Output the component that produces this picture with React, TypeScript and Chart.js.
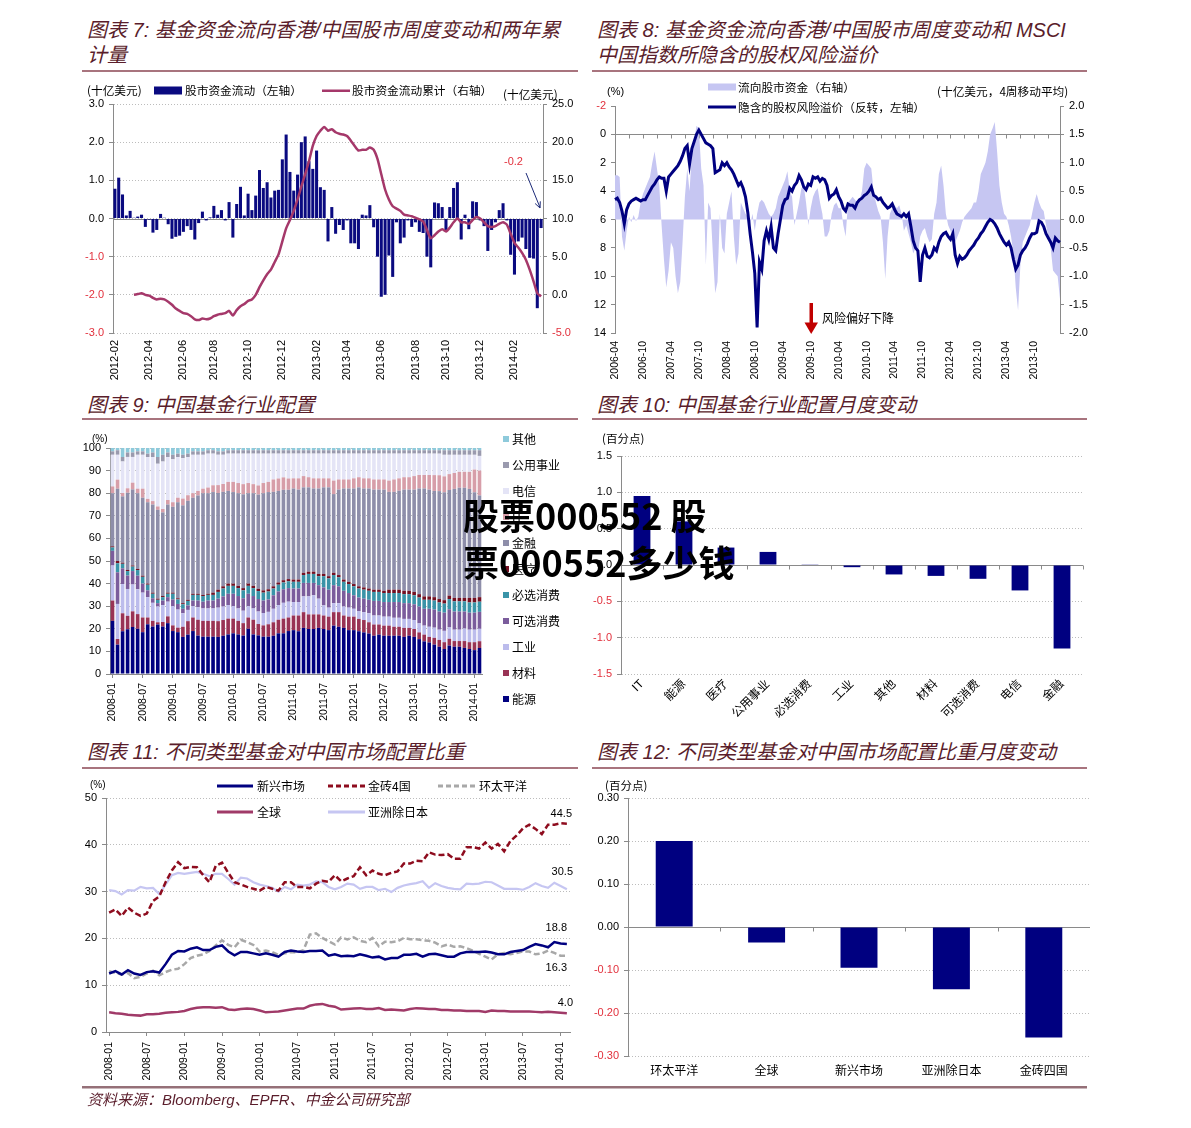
import React, { useEffect, useRef } from 'react';
import { Chart, registerables } from 'chart.js';

Chart.register(...registerables);

const FONT = '"Liberation Sans", Arial, "Noto Sans CJK SC", sans-serif';
const CJK = '"Noto Sans CJK SC", "Liberation Sans", sans-serif';
Chart.defaults.font.family = FONT;
Chart.defaults.font.size = 11;
Chart.defaults.color = '#000';

// ---------------- colours ----------------
const AXIS = '#8a8a8a';
const GRID = '#bcbcbc';
const RED = '#e2303c';
const NAVY = '#000080';
const TITLE_COLOR = '#5a1d2b';
const RULE_COLOR = '#a8747e';

// ---------------- chart 7 data (weekly, from 2012-02) ----------------
const flowStartDate = '2012-02-01';
const fundFlowWeekly = [
  0.78, 1.07, 0.63, 0.08, 0.2, 0.02, 0.05, 0.1, -0.22, -0.03,
  -0.37, -0.3, 0.12, 0.02, -0.15, -0.53, -0.48, -0.45, -0.35, -0.2,
  -0.3, -0.55, -0.12, 0.18, -0.05, 0.03, 0.33, 0.1, 0.22, -0.05,
  0.43, -0.5, 0.38, 0.83, 0.08, 0.65, 0.22, 0.6, 1.27, 0.8,
  0.95, 0.55, 0.73, 0.75, 1.55, 2.2, 1.22, 0.73, 1.15, 2.0,
  2.15, 1.5, 1.3, 1.78, 0.82, 0.75, -0.6, 0.3, -0.4, -0.17,
  -0.3, -0.05, -0.65, -0.65, -0.8, 0.1, 0.08, 0.35, -0.23, -1.0,
  -2.05, -2.0, -0.97, -1.53, -0.1, -0.65, -0.5, -0.05, -0.22, -0.1,
  -0.35, -0.38, -1.0, -1.28, 0.42, 0.4, 0.3, -0.3, 0.3, 0.8,
  0.95, -0.55, 0.1, -0.28, 0.45, 0.43, -0.05, -0.2, -0.85, -0.3,
  -0.1, 0.22, 0.4, -0.05, -0.95, -1.47, -0.6, -0.5, -0.8, -1.03,
  -1.05, -2.35, -0.25,
];
const fundFlowCumulative = [
  null, null, null, null, null, 0.0, 0.1, 0.2, 0.0, -0.1,
  -0.4, -0.6, -0.5, -0.6, -0.9, -1.3, -1.8, -2.1, -2.4, -2.5,
  -2.8, -3.2, -3.3, -3.1, -3.2, -3.1, -2.8, -2.6, -2.5, -2.4,
  -2.1, -2.7, -2.0, -1.5, -1.2, -0.8, -0.6, 0.0, 1.0, 1.9,
  2.7, 3.3, 4.3, 5.3, 7.0, 8.7, 9.8, 11.0, 12.5, 14.2,
  15.8, 17.5, 19.5, 20.8, 21.5, 22.0, 21.5, 21.7, 21.3, 21.1,
  21.0, 20.8, 20.2, 19.5, 18.9, 19.0, 19.0, 19.3, 19.0, 17.8,
  15.8, 13.8, 12.5, 11.6, 11.3, 11.0, 10.5, 10.4, 10.3, 10.1,
  9.9, 9.6, 8.5, 7.4, 7.8, 8.3, 8.6, 8.3, 8.8, 9.5,
  10.0, 9.5, 9.5, 9.3, 9.8, 10.2, 10.0, 9.5, 9.0, 8.9,
  9.0, 9.3, 9.5, 9.2, 8.0, 6.8, 6.2, 5.5, 4.6, 3.3,
  1.8, 0.2, -0.2,
];

// ---------------- chart 8 data (semi-monthly, from 2006-04) ----------------
const erpStartMonth = '2006-04';
const impliedErp = [
  4.6, 4.5, 4.8, 5.4, 6.3, 5.3, 4.9, 4.7, 4.6, 4.5,
  4.6, 4.7, 4.6, 4.6, 4.3, 4.0, 3.7, 3.5, 3.2, 3.0,
  3.1, 3.1, 4.0, 3.0, 2.8, 2.6, 2.4, 2.2, 1.9, 1.5,
  1.0, 0.8, 2.1, 1.0, 0.5, 0.0, -0.3, 0.0, 0.3, 0.6,
  0.7, 0.8, 1.0, 2.7, 2.6, 2.5, 2.0, 2.2, 2.0, 2.3,
  2.5, 2.8, 3.2, 3.6, 3.4, 3.8, 4.4, 5.5, 7.0, 8.3,
  9.8, 13.6, 9.0, 9.5, 7.5, 6.8, 7.4, 6.5, 8.0, 8.2,
  7.0, 6.0, 5.0, 4.6, 4.5, 3.8, 4.0, 3.6, 3.4, 2.9,
  3.2, 3.7, 3.9, 3.5, 3.6, 3.0, 3.1, 3.0, 3.3, 3.1,
  3.2, 3.6, 4.5, 4.3, 4.2, 3.9, 4.4, 4.7, 5.2, 5.4,
  4.9, 5.0, 5.0, 5.2, 4.8, 4.6, 4.5, 4.3, 4.2, 4.0,
  3.7, 4.3, 4.4, 4.6, 4.5, 4.8, 5.0, 5.2, 5.1, 4.9,
  5.3, 5.6, 5.7, 5.8, 5.6, 5.8, 5.6, 6.5, 7.5, 8.0,
  8.2, 10.4, 8.5, 8.0, 8.6, 8.7, 8.5, 8.0, 8.2, 7.6,
  7.2, 7.0, 6.9, 7.2, 7.4, 7.0, 8.5, 9.1, 8.6, 8.8,
  8.7, 8.5, 8.2, 8.0, 7.8, 7.5, 7.3, 7.0, 6.8, 6.5,
  6.2, 6.0, 6.1, 6.3, 6.6, 7.0, 7.3, 7.6, 7.8, 7.6,
  8.0, 8.8, 9.5, 9.2, 8.5, 8.2, 8.0, 7.7, 7.3, 7.0,
  7.0, 6.9, 6.1, 6.2, 6.5, 7.0, 7.3, 7.6, 8.0, 7.3,
  7.5, 7.6,
];
const equityFlow4w = [
  0.78, 0.78, 0.75, -0.3, -0.55, -0.2, 0.05, -0.05, 0.08, -0.03,
  0.05, 0.3, 0.45, 0.55, 0.65, 0.75, 1.0, 1.2, 0.9, 0.6,
  -0.1, -0.7, -1.2, -0.9, -0.4, -0.5, -1.0, -1.3, -1.1, -0.4,
  0.4, 0.9, 0.5, 1.2, 1.4, 1.65, 1.6, 0.9, 0.6, -0.8,
  0.3, 0.2, -0.6, -1.3, -1.1, 0.1, -0.5, -0.6, 0.1, 0.3,
  0.5, -0.3, -0.8, -0.6, 0.3, 0.2, 0.1, 0.05, -0.1, 0.1,
  -0.2, 0.1, 0.3, 0.35, 0.3, 0.2, 0.1, 0.05, 0.1, 0.2,
  0.4, 0.5, 0.6, 0.7, 0.85, 0.5, 0.4, -0.1, 0.1, 0.3,
  0.55, 0.6, 0.3, -0.1, 0.2, 0.4, 0.5, 0.55, 0.3, 0.1,
  -0.3, -0.3, -0.2, 0.1, 0.25, 0.3, 0.2, 0.2, -0.1, -0.3,
  0.3, 0.35, 0.4, 0.35, 0.3, 0.35, 0.5, 0.9, 1.0, 0.95,
  0.9, 0.5, 0.3, 0.15, 0.05, -0.4, -1.05, -0.3, 0.1, 0.2,
  0.25, 0.2, 0.25, 0.1, -0.2, -0.1, -0.25, -0.4, -0.6, -0.5,
  -0.6, -0.3, -0.2, -0.15, -0.3, -0.4, -0.35, 0.1, 0.3, 0.8,
  0.95, 0.6, 0.1, -0.1, -0.2, -0.35, -0.4, -0.3, -0.2, -0.05,
  0.05, 0.1, 0.15, 0.2, 0.3, 0.3, 0.5, 0.8, 0.9, 1.0,
  1.2, 1.5, 1.6, 1.72, 1.2, 0.6, 0.3, 0.1, 0.05, -0.1,
  -0.3, -0.6, -1.2, -1.6, -0.8, -0.4, -0.3, -0.2, -0.1, 0.1,
  0.3, 0.45, 0.3, 0.2, 0.15, -0.1, -0.3, -0.5, -0.9, -0.95,
  -1.0, -1.4,
];

// ---------------- chart 9 data (monthly, 2008-01 .. 2014-02) ----------------
const sectorEnergy = [23.5,13,19,20,21,20,18.5,22,21,22,21,22.5, 19,18.5,16.5,17.5,19,17,16.5,16.5,16.5,16.5,17,17.5, 18,17.5,17,20,17.5,17,16.5,16.5,17,18,18,19, 19.5,19,20.5,20,20,20.5,20,19.5,21.5,21,20.5,19.5, 19.5,19,18.5,18,17,17.5,17,17,17,17,16.5,17, 16.5,15.5,14.5,14,13,12,11,12.5,12,12,11.5,11, 10.5,11.5];
const sectorMaterials = [9,2.5,8,6,7,6.5,6.5,3,2.5,1,2,3, 2.5,2,4.5,6,6,7,7,7,7,7,7,7, 6.5,6,5.5,5,6.5,5,5,5.5,6,6,6.5,6, 6.5,7,7,6.5,6.5,6,6,6,6,6.5,5.5,6, 6,5.5,5.5,5,5,4.5,4.5,4.5,4,4,4,3.5, 3.5,3,3,2.5,3,3,3,3,2.5,2.5,3,3, 3.5,3];
const sectorIndustrials = [15.5,15.5,13,12,12,11,11,9,8,7,7.5,6.5, 8.5,8,6,5,5,5.5,5.5,5.5,5.5,6,6,6, 5.5,5.5,5.5,5,5,5.5,5.5,5.5,6,6.5,7,7, 6,6,7,8,8.5,7,4.5,4,4,4,4,4, 3.5,3.5,3.5,4,4,4,4,4,4,4,4,4, 4,4,4,4.5,4.5,4.5,5,5,5,5,5.5,5.5, 5.5,5.5];
const sectorConsDisc = [6.5,14,7,6,6,6,4,3,2,1.5,2,2, 3,2.5,2,2,2.5,3,3,3.5,3.5,4,4.5,5, 5.5,5.5,5.5,5.5,5.5,5.5,5.5,5.5,6,6,6,6, 6,6,6,6,5.5,6,8,8,8,7.5,7,6.5, 6,6,6,6,6.5,6.5,6.5,6.5,7,7,7,7, 7,7.5,7.5,8,8,8,8,8,8,8,7.5,7.5, 7.5,7.5];
const sectorConsStaples = [1.5,4,2,2,2,2.5,3,2.5,2,1.5,1.5,1.5, 2.5,2,2,2,2.5,2.5,2.5,2.5,2.5,3,3.5,3.5, 3.5,3.5,3.5,3.5,3.5,3.5,3.5,3.5,3,3,3,3, 3,3,3.5,4,4,4,5,5,4.5,4,4,4, 4,4,4,4,4,4,4,4,4,4,4,4, 4,4,4,4,4,4,4,4.5,4.5,4.5,4.5,4.5, 4.5,4.5];
const sectorHealth = [0.5,1,0.5,0.5,0.5,0.5,0.5,0.5,0.5,0.5,0.5,0.5, 0.5,0.5,0.5,0.5,0.5,0.5,0.5,0.5,1,1,1,1, 1,1,1,1,1,1,1,1,1,1,1,1, 1,1,1,1,1,1,1,1,1,1,1,1, 1,1,1,1,1,1,1,1.5,1.5,1.5,1.5,1.5, 1.5,1.5,1.5,1.5,1.5,1.5,1.5,1.5,1.5,1.5,1.5,2, 2,2];
const sectorFinancials = [23.5,32,29.5,34.5,34,33.5,34.5,36,39,39.5,37,39, 38,42.5,43.5,44,42.5,43.5,45,44.5,44.5,43,42,41, 40.5,41,41.5,40,41,41.5,43,43,42,40.5,40,39.5, 40.5,40,38,37.5,37,38,38.5,39.5,35,38,40.5,41.5, 42.5,44,44,44.5,44.5,44.5,45,43.5,43.5,44,45,45, 45.5,47,48,47.5,47,47.5,47.5,46.5,48,48.5,48.5,48, 46.5,45];
const sectorIT = [3,4,1.5,2,3,2,4,1.5,1.5,1.5,1.5,2, 2,2,3,2.5,2,2,2,2.5,3,3.5,3.5,4, 4.5,4.5,4.5,4.5,4,4,4.5,4.5,5.5,5.5,5.5,5, 4.5,5,5,4.5,4.5,4.5,4,4,6,4.5,4,4, 4.5,4.5,4.5,4.5,4.5,4.5,4.5,5,5.5,5.5,5.5,5.5, 6,6,6,6.5,7,7,7,7,7,7,7,7.5, 10,11];
const sectorTelecom = [14,11,14,14,11.5,15,15,18.5,19.5,19,21,19, 19,18,18,17,17,16,15,15,14,13.5,13,12.5, 12.5,13,13.5,13,13.5,14,13,12.5,11.5,11,10.5,11, 11,11,10,10.5,11,11,11,11,12,11.5,11.5,11.5, 11,10.5,11,11,11.5,11.5,11.5,12,11.5,11,10.5,10.5, 10,9.5,9.5,9.5,9.5,9.5,9.5,8.5,8,7.5,7.5,7.5, 6.5,6.5];
const sectorUtilities = [1.5,2,2,2,2,1.5,1.5,1.5,2,3,3,2, 2,1.5,1.5,1.5,1.5,1.5,1.5,1.5,1.5,1.5,1.5,1.5, 1.5,1.5,1.5,1.5,1.5,1.5,1.5,1.5,1.5,1.5,1.5,1.5, 1.5,1.5,1.5,1.5,1.5,1.5,1.5,1.5,1.5,1.5,1.5,1.5, 1.5,1.5,1.5,1.5,1.5,1.5,1.5,1.5,1.5,1.5,1.5,1.5, 1.5,1.5,1.5,1.5,1.5,1.5,2,2,2,2,2,2, 2,2.5];
const sectorOthers = [1.5,1,4,2,2,1.5,1.5,2.5,2,4,3,2, 3,2.5,3,2.5,1.5,1.5,1.5,1,1,1.5,1.5,1, 1,1,1,1,1,1,1,1,1,1,1,1, 1,1,1,1,1,1,1,1,1,1,1,1, 1,1,1,1,1,1,1,1,1,1,1,1, 1,1,1,1,1,1,1,1,1,1,1,1, 1,1];
const sectorNames = ['能源', '材料', '工业', '可选消费', '必选消费', '医疗', '金融', 'IT', '电信', '公用事业', '其他'];
const sectorColors = ['#000080', '#993355', '#bcbcec', '#7b5c9c', '#3a94a8', '#741022', '#8e8eaa', '#d79ea9', '#e4e4f6', '#9a9aae', '#8ecadb'];

// ---------------- chart 10 data ----------------
const sectorChangeCats = ['IT', '能源', '医疗', '公用事业', '必选消费', '工业', '其他', '材料', '可选消费', '电信', '金融'];
const sectorChangeVals = [0.95, 0.6, 0.24, 0.18, 0.01, -0.03, -0.13, -0.15, -0.19, -0.35, -1.15];

// ---------------- chart 11 data (monthly, 2008-01 .. 2014-02) ----------------
const weightEM = [12.5,13.0,12.3,13.2,12.5,12.2,12.8,13.0,12.7,14.5, 16.5,17.3,17.2,17.8,18.1,17.5,17.5,18.2,18.5,17.2, 16.4,17.1,17.1,16.8,16.5,16.8,16.5,16.1,17.1,17.4, 17.2,17.1,17.3,17.3,17.4,16.3,16.6,16.2,16.3,16.2, 16.6,16.3,15.9,16.1,15.5,15.8,15.8,16.5,16.5,16.7, 16.1,16.6,16.7,16.4,16.1,16.1,16.8,17.1,17.1,17.1, 17.2,17.0,16.6,16.6,17.1,17.3,17.5,18.2,18.8,18.5, 18.1,19.2,18.9,18.8];
const weightBRIC = [25.5,26.2,24.8,26.6,25.5,24.8,25.3,28.0,29.0,32.0, 34.5,36.3,35.0,35.3,35.2,33.5,32.0,35.5,36.2,34.0, 32.0,31.5,31.0,30.6,30.2,31.0,30.6,30.2,32.0,32.0, 31.0,31.0,30.7,31.7,32.3,32.1,33.5,32.2,32.8,33.3, 35.2,33.5,34.5,33.8,33.5,34.0,34.3,36.0,36.0,36.6, 36.5,38.4,37.9,37.8,38.0,37.0,37.0,39.5,39.5,39.2, 40.5,39.2,40.2,38.6,40.8,42.0,43.5,44.3,43.4,42.3, 44.3,44.3,44.6,44.5];
const weightPacific = [13.0,12.6,12.3,12.6,11.5,11.8,12.5,13.1,12.1,12.8, 13.3,13.5,14.5,15.8,16.3,16.6,17.3,18.5,19.6,18.6, 18.1,19.7,19.2,18.6,17.2,17.4,17.1,16.5,16.8,17.1, 17.0,17.5,20.8,21.1,20.1,19.4,18.7,20.2,19.8,20.2, 19.5,19.2,20.1,18.3,19.3,19.2,19.4,20.1,19.8,19.8, 19.6,19.5,19.1,18.3,18.7,18.2,18.3,17.9,17.4,16.7, 16.1,15.5,16.6,16.9,16.6,16.9,17.2,17.2,16.6,16.8, 17.4,16.9,16.3,16.3];
const weightGlobal = [4.2,4.0,3.9,3.7,3.6,3.5,3.8,3.8,3.9,4.1, 4.2,4.3,4.5,4.9,5.2,5.3,5.3,5.2,5.3,4.8, 4.7,4.9,5.0,4.9,4.6,4.2,4.3,4.4,4.6,4.8, 5.0,5.0,5.6,5.9,6.0,5.6,5.4,4.8,4.9,5.0, 5.1,4.9,4.9,5.1,4.7,4.8,4.7,4.6,4.9,5.1, 5.0,4.9,4.9,4.7,4.7,4.6,4.6,4.5,4.5,4.5, 4.3,4.6,4.5,4.5,4.4,4.4,4.4,4.4,4.3,4.2, 4.3,4.2,4.1,4.0];
const weightAsiaExJapan = [30.3,30.1,29.4,30.3,30.2,31.0,30.7,30.8,29.5,31.5, 33.5,34.0,33.8,34.0,34.2,33.8,33.3,33.8,33.8,32.7, 31.5,33.0,32.8,32.0,31.5,31.2,30.8,30.0,31.0,30.5, 31.5,31.3,31.5,32.2,32.0,31.0,30.5,31.0,31.7,31.5, 30.6,31.0,31.0,30.3,30.6,29.9,30.8,31.3,31.6,31.8, 32.2,30.8,31.8,31.2,30.8,30.6,30.5,31.7,31.6,31.7, 32.1,32.0,31.3,30.6,30.6,30.6,30.4,31.0,31.8,31.2, 30.8,31.9,31.2,30.5];
const monthlyStart = '2008-01';

// ---------------- chart 12 data ----------------
const fundTypeCats = ['环太平洋', '全球', '新兴市场', '亚洲除日本', '金砖四国'];
const fundTypeChange = [0.20, -0.036, -0.095, -0.145, -0.257];

// ---------------- axis label helpers ----------------
function monthSeq(start: string, n: number): string[] {
  const y0 = +start.slice(0, 4);
  const m0 = +start.slice(5, 7) - 1;
  const out: string[] = [];
  for (let i = 0; i < n; i++) {
    const t = m0 + i;
    out.push(`${y0 + Math.floor(t / 12)}-${String((t % 12) + 1).padStart(2, '0')}`);
  }
  return out;
}
const weekLabels7 = fundFlowWeekly.map((_, i) => new Date(Date.parse(flowStartDate + 'T00:00:00Z') + i * 7 * 864e5).toISOString().slice(0, 10));
const weekTicks7 = weekLabels7.map((s, i) => {
  const ym = s.slice(0, 7);
  const prev = i > 0 ? weekLabels7[i - 1].slice(0, 7) : '';
  return ym !== prev && +s.slice(5, 7) % 2 === 0 ? ym : '';
});
const halfMonths8 = monthSeq(erpStartMonth, Math.ceil(impliedErp.length / 2));
const labels8 = impliedErp.map((_, k) => halfMonths8[Math.floor(k / 2)] + (k % 2 ? '-b' : '-a'));
const ticks8 = labels8.map((s, k) => {
  const m = +s.slice(5, 7);
  return k % 2 === 0 && (m === 4 || m === 10) ? s.slice(0, 7) : '';
});
const months74 = monthSeq(monthlyStart, sectorEnergy.length);
const ticksHalfYear = months74.map((s) => (s.endsWith('-01') || s.endsWith('-07') ? s : ''));

// ---------------- chart helpers ----------------
function fixAxis(size: number) {
  return (scale: any) => {
    if (scale.isHorizontal()) scale.height = size;
    else scale.width = size;
    scale.paddingLeft = 0;
    scale.paddingRight = 0;
    scale.paddingTop = 0;
    scale.paddingBottom = 0;
  };
}

function yScale(o: any) {
  return {
    type: 'linear',
    position: o.pos || 'left',
    min: o.min,
    max: o.max,
    reverse: !!o.reverse,
    afterFit: fixAxis(o.width),
    ticks: {
      stepSize: o.step,
      padding: 5,
      font: { size: 11 },
      color: (c: any) => (o.redNeg && c.tick && c.tick.value < -1e-9 ? RED : '#000'),
      callback: (v: any) => (Math.abs(v) < 1e-9 ? 0 : Number(v)).toFixed(o.dec),
    },
    grid: { drawOnChartArea: !!o.grid, color: GRID, lineWidth: 1, drawTicks: true, tickLength: 4, tickColor: AXIS },
    border: { display: true, color: AXIS, width: 1, dash: [1, 2] },
  };
}

function xCat(o: any) {
  return {
    type: 'category',
    offset: o.offset,
    afterFit: fixAxis(o.height),
    grid: o.tickMarks
      ? {
          display: true,
          drawOnChartArea: false,
          drawTicks: true,
          tickLength: 4,
          offset: false,
          color: 'rgba(0,0,0,0)',
          tickColor: (c: any) => (o.labels[c.index] ? AXIS : 'rgba(0,0,0,0)'),
        }
      : { display: false, drawTicks: false },
    border: { display: !!o.border, color: AXIS, width: 1 },
    ticks: {
      autoSkip: false,
      maxRotation: o.rot,
      minRotation: o.rot,
      padding: o.pad,
      font: { size: o.size },
      callback: (_v: any, i: number) => o.labels[i],
    },
  };
}

const zeroLinePlugin = {
  id: 'zeroLine',
  beforeDatasetsDraw(chart: any, _a: any, opts: any) {
    if (!opts || !opts.yAxis) return;
    const { ctx, chartArea: a } = chart;
    const ys = chart.scales[opts.yAxis];
    const y = Math.round(ys.getPixelForValue(opts.value || 0)) + 0.5;
    ctx.save();
    ctx.setLineDash([]);
    ctx.strokeStyle = AXIS;
    ctx.lineWidth = 1;
    ctx.beginPath();
    ctx.moveTo(a.left, y);
    ctx.lineTo(a.right, y);
    const xs: number[] = [];
    if (opts.segments) for (let j = 0; j <= opts.segments; j++) xs.push(a.left + ((a.right - a.left) * j) / opts.segments);
    if (opts.every) {
      const n = chart.data.labels.length;
      for (let k = 0; k < n; k += opts.every) xs.push(chart.scales.x.getPixelForValue(k));
    }
    for (const x of xs) {
      const px = Math.round(x) + 0.5;
      ctx.moveTo(px, y);
      ctx.lineTo(px, y + (opts.len || 0));
    }
    ctx.stroke();
    ctx.restore();
  },
};

const endLabelPlugin = {
  id: 'endLabels',
  afterDatasetsDraw(chart: any, _a: any, opts: any) {
    if (!opts || !opts.items) return;
    const { ctx, chartArea: a } = chart;
    ctx.save();
    ctx.font = '11px ' + FONT;
    ctx.fillStyle = '#000';
    ctx.textAlign = 'right';
    ctx.textBaseline = 'middle';
    opts.items.forEach((it: any) => {
      const d = chart.data.datasets[it.ds].data;
      const v = d[d.length - 1];
      ctx.fillText(Number(v).toFixed(1), a.right + it.dx, chart.scales.y.getPixelForValue(v) + it.dy);
    });
    ctx.restore();
  },
};

function base(padding: any) {
  return {
    responsive: false,
    maintainAspectRatio: false,
    animation: false,
    devicePixelRatio: 1,
    events: [],
    layout: { padding },
  };
}

// ---------------- chart configs ----------------
function cfg7() {
  return {
    type: 'bar',
    data: {
      labels: weekLabels7,
      datasets: [
        { type: 'line', data: fundFlowCumulative, yAxisID: 'y1', borderColor: '#a5386a', borderWidth: 2.5, pointRadius: 0, tension: 0.2, spanGaps: false },
        { type: 'bar', data: fundFlowWeekly, yAxisID: 'y', backgroundColor: '#0a0a80', barPercentage: 0.8, categoryPercentage: 1 },
      ],
    },
    options: {
      ...base({ top: 10, left: 0, right: 0, bottom: 0 }),
      plugins: { legend: { display: false }, tooltip: { enabled: false }, zeroLine: { yAxis: 'y', value: 0, len: 0 } },
      scales: {
        x: xCat({ offset: true, height: 61, rot: 90, pad: 7, size: 11, labels: weekTicks7 }),
        y: yScale({ min: -3, max: 3, step: 1, dec: 1, width: 43, redNeg: true, grid: true }),
        y1: yScale({ min: -5, max: 25, step: 5, dec: 1, width: 37, pos: 'right', redNeg: true, grid: false }),
      },
    },
    plugins: [zeroLinePlugin],
  };
}

function cfg8() {
  return {
    type: 'line',
    data: {
      labels: labels8,
      datasets: [
        { data: impliedErp, yAxisID: 'y', borderColor: NAVY, borderWidth: 3, pointRadius: 0, tension: 0 },
        { data: equityFlow4w, yAxisID: 'y1', borderColor: 'rgba(0,0,0,0)', borderWidth: 1, backgroundColor: '#c6c6f2', fill: { value: 0 }, pointRadius: 0, tension: 0 },
      ],
    },
    options: {
      ...base({ top: 12, left: 0, right: 0, bottom: 0 }),
      plugins: { legend: { display: false }, tooltip: { enabled: false }, zeroLine: { yAxis: 'y', value: 0, len: 4, every: 6 } },
      scales: {
        x: xCat({ offset: false, height: 61, rot: 90, pad: 8, size: 10.5, labels: ticks8 }),
        y: yScale({ min: -2, max: 14, step: 2, dec: 0, width: 40, reverse: true, redNeg: true, grid: false }),
        y1: yScale({ min: -2, max: 2, step: 0.5, dec: 1, width: 30, pos: 'right', grid: false }),
      },
    },
    plugins: [zeroLinePlugin],
  };
}

function cfg9() {
  const series = [sectorEnergy, sectorMaterials, sectorIndustrials, sectorConsDisc, sectorConsStaples, sectorHealth, sectorFinancials, sectorIT, sectorTelecom, sectorUtilities, sectorOthers];
  const totals = months74.map((_, i) => series.reduce((s, d) => s + d[i], 0));
  return {
    type: 'bar',
    data: {
      labels: months74,
      datasets: series.map((d, si) => ({
        label: sectorNames[si],
        data: d.map((v, i) => (v / totals[i]) * 100),
        backgroundColor: sectorColors[si],
        barPercentage: 0.72,
        categoryPercentage: 1,
        stack: 's',
      })),
    },
    options: {
      ...base({ top: 10, left: 0, right: 8, bottom: 0 }),
      plugins: { legend: { display: false }, tooltip: { enabled: false } },
      scales: {
        x: { ...xCat({ offset: true, height: 54, rot: 90, pad: 5, size: 10.5, labels: ticksHalfYear, tickMarks: true, border: true }), stacked: true },
        y: { ...yScale({ min: 0, max: 100, step: 10, dec: 0, width: 40, grid: true }), stacked: true },
      },
    },
  };
}

function cfg10() {
  return {
    type: 'bar',
    data: {
      labels: sectorChangeCats,
      datasets: [{ data: sectorChangeVals, backgroundColor: NAVY, barPercentage: 0.5, categoryPercentage: 0.8 }],
    },
    options: {
      ...base({ top: 10, left: 0, right: 7, bottom: 0 }),
      plugins: { legend: { display: false }, tooltip: { enabled: false }, zeroLine: { yAxis: 'y', value: 0, len: 4, segments: sectorChangeCats.length } },
      scales: {
        x: xCat({ offset: true, height: 54, rot: 45, pad: 3, size: 12, labels: sectorChangeCats }),
        y: yScale({ min: -1.5, max: 1.5, step: 0.5, dec: 1, width: 36, redNeg: true, grid: true }),
      },
    },
    plugins: [zeroLinePlugin],
  };
}

function cfg11() {
  const ln = (data: number[], color: string, dash: number[] | null, w = 2.5) => ({
    data,
    borderColor: color,
    borderWidth: w,
    borderDash: dash || [],
    pointRadius: 0,
    tension: 0,
  });
  return {
    type: 'line',
    data: {
      labels: months74,
      datasets: [
        ln(weightEM, NAVY, null),
        ln(weightBRIC, '#8e0c1e', [6, 3]),
        ln(weightPacific, '#a8a8a8', [6, 3]),
        ln(weightGlobal, '#a03a68', null),
        ln(weightAsiaExJapan, '#c6c6f2', null, 2.2),
      ],
    },
    options: {
      ...base({ top: 8, left: 0, right: 10, bottom: 0 }),
      plugins: {
        legend: { display: false },
        tooltip: { enabled: false },
        endLabels: {
          items: [
            { ds: 1, dx: 2, dy: -10 },
            { ds: 4, dx: 3, dy: -17 },
            { ds: 0, dx: -3, dy: -16 },
            { ds: 2, dx: -3, dy: 12 },
            { ds: 3, dx: 3, dy: -10 },
          ],
        },
      },
      scales: {
        x: xCat({ offset: true, height: 52, rot: 90, pad: 6, size: 10.5, labels: ticksHalfYear, tickMarks: true, border: true }),
        y: yScale({ min: 0, max: 50, step: 10, dec: 0, width: 36, grid: true }),
      },
    },
    plugins: [endLabelPlugin],
  };
}

function cfg12() {
  return {
    type: 'bar',
    data: {
      labels: fundTypeCats,
      datasets: [{ data: fundTypeChange, backgroundColor: NAVY, barPercentage: 0.5, categoryPercentage: 0.8 }],
    },
    options: {
      ...base({ top: 8, left: 0, right: 0, bottom: 0 }),
      plugins: { legend: { display: false }, tooltip: { enabled: false }, zeroLine: { yAxis: 'y', value: 0, len: 4, segments: fundTypeCats.length } },
      scales: {
        x: xCat({ offset: true, height: 28, rot: 0, pad: 8, size: 12, labels: fundTypeCats }),
        y: yScale({ min: -0.3, max: 0.3, step: 0.1, dec: 2, width: 48, redNeg: true, grid: true }),
      },
    },
    plugins: [zeroLinePlugin],
  };
}

// ---------------- components ----------------
function ChartCanvas({ x, y, w, h, make }: { x: number; y: number; w: number; h: number; make: () => any }) {
  const ref = useRef<HTMLCanvasElement>(null);
  useEffect(() => {
    if (!ref.current) return;
    const chart = new Chart(ref.current, make());
    return () => chart.destroy();
  }, []);
  return <canvas ref={ref} width={w} height={h} style={{ position: 'absolute', left: x, top: y, width: w, height: h }} />;
}

function T({ x, y, size = 12, color = '#000', family = CJK, children, style }: any) {
  return (
    <div
      style={{
        position: 'absolute',
        left: x,
        top: y,
        transform: 'translateY(-50%)',
        fontSize: size,
        lineHeight: 1.2,
        color,
        fontFamily: family,
        whiteSpace: 'nowrap',
        ...style,
      }}
    >
      {children}
    </div>
  );
}

function Title({ x, y, children }: any) {
  return (
    <div
      style={{
        position: 'absolute',
        left: x,
        top: y,
        fontSize: 20,
        lineHeight: '25px',
        fontStyle: 'italic',
        color: TITLE_COLOR,
        fontFamily: FONT,
        whiteSpace: 'nowrap',
      }}
    >
      {children}
    </div>
  );
}

const legend9 = sectorNames.map((n, i) => ({ n, c: sectorColors[i] })).reverse();

export default function App() {
  return (
    <div style={{ position: 'absolute', left: 0, top: 0, width: 1191, height: 1128, background: '#fff', overflow: 'hidden', fontFamily: FONT }}>
      {/* titles */}
      <Title x={87} y={17.5}>
        图表 7: 基金资金流向香港/中国股市周度变动和两年累
        <br />
        计量
      </Title>
      <Title x={597} y={17.5}>
        图表 8: 基金资金流向香港/中国股市周度变动和 MSCI
        <br />
        中国指数所隐含的股权风险溢价
      </Title>
      <Title x={87} y={392.5}>图表 9: 中国基金行业配置</Title>
      <Title x={597} y={392.5}>图表 10: 中国基金行业配置月度变动</Title>
      <Title x={87} y={739.5}>图表 11: 不同类型基金对中国市场配置比重</Title>
      <Title x={597} y={739.5}>图表 12: 不同类型基金对中国市场配置比重月度变动</Title>

      {/* charts */}
      <ChartCanvas x={70} y={94} w={510} h={300} make={cfg7} />
      <ChartCanvas x={575} y={94} w={515} h={300} make={cfg8} />
      <ChartCanvas x={70} y={438} w={420} h={290} make={cfg9} />
      <ChartCanvas x={585} y={446} w={505} h={282} make={cfg10} />
      <ChartCanvas x={70} y={790} w={510} h={294} make={cfg11} />
      <ChartCanvas x={580} y={790} w={510} h={294} make={cfg12} />

      {/* rules, swatches, annotations */}
      <svg width={1191} height={1128} style={{ position: 'absolute', left: 0, top: 0, pointerEvents: 'none' }}>
        <rect x={82} y={70} width={496} height={2} fill={RULE_COLOR} />
        <rect x={592} y={70} width={495} height={2} fill={RULE_COLOR} />
        <rect x={82} y={418} width={496} height={2} fill={RULE_COLOR} />
        <rect x={592} y={418} width={495} height={2} fill={RULE_COLOR} />
        <rect x={82} y={767} width={496} height={2} fill={RULE_COLOR} />
        <rect x={592} y={767} width={495} height={2} fill={RULE_COLOR} />
        <rect x={82} y={1086} width={1005} height={2.5} fill="#957078" />

        {/* chart 7 legend */}
        <rect x={154} y={86.5} width={28} height={8} fill="#0a0a80" />
        <rect x={322} y={89.5} width={28} height={2.5} fill="#a5386a" />
        {/* chart 7 arrow */}
        <line x1={526} y1={173} x2={540} y2={207.5} stroke="#1c2a78" strokeWidth={1} />
        <polyline points="535.1,203.5 540,208 540.3,201.3" fill="none" stroke="#1c2a78" strokeWidth={1} />

        {/* chart 8 legend */}
        <rect x={708} y={83.5} width={28} height={7} fill="#c6c6f2" />
        <rect x={708} y={105.5} width={28} height={3} fill={NAVY} />
        {/* chart 8 red arrow */}
        <rect x={809.5} y={303} width={3.5} height={21} fill="#c00000" />
        <polygon points="804.5,322.5 818,322.5 811.2,334" fill="#c00000" />

        {/* chart 9 legend swatches */}
        {legend9.map((it, i) => (
          <rect key={it.n} x={503} y={436 + i * 26} width={6} height={6} fill={it.c} />
        ))}

        {/* chart 11 legend swatches */}
        <line x1={217} y1={786} x2={253} y2={786} stroke={NAVY} strokeWidth={3} />
        <line x1={328} y1={786} x2={365} y2={786} stroke="#8e0c1e" strokeWidth={3} strokeDasharray="5 3" />
        <line x1={438} y1={786} x2={475} y2={786} stroke="#a8a8a8" strokeWidth={3} strokeDasharray="5 3" />
        <line x1={217} y1={812} x2={253} y2={812} stroke="#a03a68" strokeWidth={3} />
        <line x1={328} y1={812} x2={365} y2={812} stroke="#c6c6f2" strokeWidth={3} />
      </svg>

      {/* chart 7 texts */}
      <T x={87} y={90} size={11.7}>(十亿美元)</T>
      <T x={185} y={90} size={11.7}>股市资金流动（左轴）</T>
      <T x={352} y={90} size={11.7}>股市资金流动累计（右轴）</T>
      <T x={503} y={94} size={11.7}>(十亿美元)</T>
      <T x={504} y={162} size={11} color={RED} family={FONT}>-0.2</T>

      {/* chart 8 texts */}
      <T x={607} y={92} size={11} family={FONT}>(%)</T>
      <T x={738} y={87} size={11.7}>流向股市资金（右轴）</T>
      <T x={937} y={91} size={11.7}>(十亿美元，4周移动平均)</T>
      <T x={738} y={107} size={11.7}>隐含的股权风险溢价（反转，左轴）</T>
      <T x={822} y={318} size={12}>风险偏好下降</T>

      {/* chart 9 texts */}
      <T x={92} y={439} size={10} family={FONT}>(%)</T>
      {legend9.map((it, i) => (
        <T key={it.n} x={512} y={439 + i * 26} size={12}>
          {it.n}
        </T>
      ))}

      {/* chart 10 texts */}
      <T x={602} y={439} size={11.5}>(百分点)</T>

      {/* chart 11 texts */}
      <T x={90} y={785} size={10} family={FONT}>(%)</T>
      <T x={257} y={786} size={12}>新兴市场</T>
      <T x={368} y={786} size={12}>金砖4国</T>
      <T x={479} y={786} size={12}>环太平洋</T>
      <T x={257} y={812} size={12}>全球</T>
      <T x={368} y={812} size={12}>亚洲除日本</T>

      {/* chart 12 texts */}
      <T x={605} y={786} size={11.5}>(百分点)</T>

      {/* footer */}
      <T x={87} y={1100} size={15} color={TITLE_COLOR} family={FONT} style={{ fontStyle: 'italic' }}>
        资料来源：Bloomberg、EPFR、中金公司研究部
      </T>

      {/* overlay text */}
      <div
        style={{
          position: 'absolute',
          left: 463,
          top: 491,
          fontSize: 36,
          lineHeight: '47px',
          fontWeight: 700,
          color: '#000',
          fontFamily: CJK,
          whiteSpace: 'nowrap',
        }}
      >
        股票000552 股
        <br />
        票000552多少钱
      </div>
    </div>
  );
}
